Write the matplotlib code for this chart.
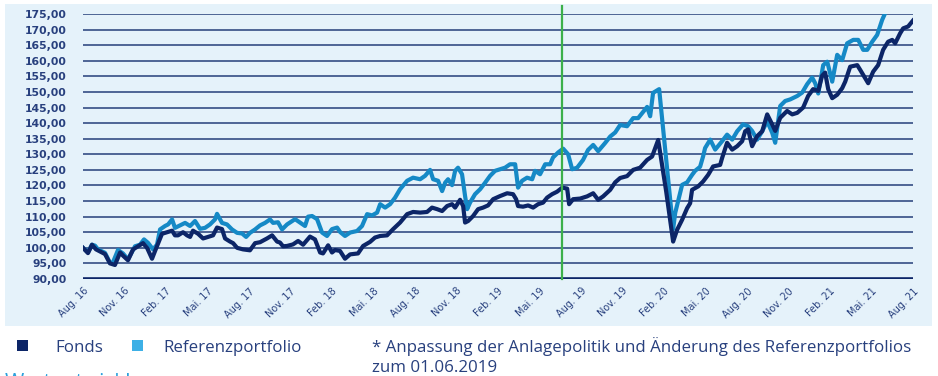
import matplotlib.pyplot as plt
from matplotlib.patches import Rectangle

# months since Aug 2016 and indexed values (start = 100)
fonds_months = [
    0.00, 0.36, 0.65, 0.94, 1.59, 1.95, 2.31, 2.68, 2.89, 3.25,
    3.62, 3.98, 4.34, 4.63, 4.99, 5.21, 5.71, 6.07, 6.44, 6.65,
    6.87, 7.23, 7.52, 7.74, 7.95, 8.32, 8.68, 9.04, 9.40, 9.69,
    10.05, 10.27, 10.63, 10.85, 11.14, 11.57, 12.07, 12.44, 12.80, 13.30,
    13.67, 14.03, 14.24, 14.46, 14.75, 15.18, 15.55, 15.91, 16.41, 16.77,
    17.14, 17.35, 17.72, 18.00, 18.22, 18.58, 18.94, 19.31, 19.88, 20.25,
    20.75, 21.11, 21.48, 21.98, 22.42, 22.92, 23.43, 23.86, 24.37, 24.87,
    25.23, 25.60, 25.96, 26.32, 26.68, 26.90, 27.26, 27.48, 27.62, 27.84,
    28.20, 28.56, 28.92, 29.28, 29.65, 30.15, 30.66, 31.09, 31.31, 31.45,
    31.81, 32.18, 32.54, 32.90, 33.26, 33.55, 33.91, 34.27, 34.64, 35.00,
    35.14, 35.43, 35.94, 36.44, 36.88, 37.24, 37.60, 38.11, 38.47, 38.83,
    39.33, 39.77, 40.27, 40.78, 41.14, 41.58, 42.16, 42.66, 42.95, 43.31,
    43.67, 43.89, 44.03, 44.47, 44.83, 45.19, 45.55, 46.06, 46.20, 46.56,
    46.93, 47.29, 47.65, 47.87, 48.08, 48.37, 48.73, 49.10, 49.46, 49.82,
    50.04, 50.40, 50.90, 51.27, 51.63, 52.06, 52.42, 52.78, 53.15, 53.43,
    53.65, 53.87, 54.16, 54.52, 54.88, 55.10, 55.46, 55.97, 56.18, 56.54,
    56.76, 57.12, 57.48, 57.84, 58.20, 58.50, 58.71, 59.07, 59.29, 59.65,
    60.00,
]
fonds = [
    100.0, 98.3, 101.0, 99.5, 98.0, 95.0, 94.5, 98.5, 97.5, 96.0,
    99.5, 100.5, 101.5, 100.0, 96.5, 99.0, 104.5, 105.0, 105.5, 104.0,
    104.0, 105.0, 104.0, 103.5, 105.5, 104.5, 103.0, 103.5, 104.0, 106.5,
    106.0, 103.0, 102.0, 101.5, 100.0, 99.5, 99.2, 101.5, 101.8, 103.0,
    104.0, 102.0, 101.7, 100.5, 100.6, 101.1, 102.2, 101.0, 103.6, 102.7,
    98.5, 98.2, 100.8, 98.5, 99.3, 99.0, 96.5, 97.9, 98.2, 100.6,
    101.9, 103.3, 103.8, 104.0, 106.0, 108.1, 110.8, 111.5, 111.3, 111.5,
    112.9, 112.4, 111.8, 113.4, 114.0, 112.9, 115.4, 113.4, 108.1, 108.6,
    110.2, 112.4, 112.9, 113.6, 115.6, 116.6, 117.5, 117.2, 115.6, 113.4,
    113.2, 113.6, 112.9, 114.0, 114.5, 116.1, 117.2, 118.0, 119.3, 119.0,
    114.0, 115.6, 115.8, 116.5, 117.5, 115.4, 116.5, 118.6, 121.0, 122.4,
    123.0, 125.0, 125.7, 128.2, 129.3, 134.6, 118.0, 102.0, 105.8, 109.0,
    112.7, 114.3, 118.6, 119.7, 121.3, 123.4, 126.1, 126.6, 128.8, 133.7,
    131.5, 132.6, 134.2, 137.4, 138.0, 132.6, 135.8, 137.4, 142.8, 139.6,
    137.5, 141.7, 143.9, 142.8, 143.3, 145.0, 148.7, 150.9, 150.3, 155.2,
    156.2, 150.9, 148.0, 149.1, 151.2, 153.3, 158.1, 158.6, 157.1, 154.4,
    152.8, 156.5, 158.6, 163.5, 166.1, 166.7, 165.6, 168.8, 170.4, 171.0,
    172.9,
]

ref_months = [
    0.00, 0.36, 0.65, 0.87, 1.08, 1.59, 1.95, 2.17, 2.53, 2.89,
    3.25, 3.76, 4.12, 4.41, 4.70, 5.06, 5.35, 5.57, 5.93, 6.15,
    6.44, 6.65, 7.01, 7.38, 7.74, 8.10, 8.46, 8.82, 9.18, 9.54,
    9.69, 10.05, 10.41, 10.77, 11.14, 11.50, 11.79, 12.07, 12.44, 12.80,
    13.16, 13.52, 13.74, 14.10, 14.39, 14.75, 15.33, 15.69, 16.05, 16.27,
    16.56, 16.92, 17.28, 17.64, 18.00, 18.37, 18.58, 18.94, 19.31, 19.81,
    20.17, 20.54, 20.90, 21.26, 21.48, 21.84, 22.20, 22.56, 22.92, 23.43,
    23.86, 24.37, 24.73, 25.09, 25.31, 25.67, 25.96, 26.18, 26.39, 26.68,
    26.90, 27.11, 27.40, 27.62, 27.77, 27.98, 28.34, 28.71, 29.07, 29.43,
    29.79, 30.15, 30.51, 30.87, 31.24, 31.45, 31.74, 32.10, 32.47, 32.68,
    33.04, 33.41, 33.77, 33.98, 34.35, 34.71, 35.07, 35.36, 35.72, 36.15,
    36.51, 36.88, 37.24, 37.74, 38.11, 38.47, 38.83, 39.33, 39.77, 40.13,
    40.49, 40.78, 41.00, 41.21, 41.65, 42.23, 42.66, 42.81, 43.31, 43.67,
    44.03, 44.25, 44.61, 44.83, 44.97, 45.34, 45.70, 46.20, 46.56, 46.93,
    47.29, 47.72, 48.08, 48.37, 48.73, 49.10, 49.46, 49.82, 50.04, 50.40,
    50.76, 51.12, 51.63, 51.99, 52.35, 52.71, 52.93, 53.15, 53.51, 53.80,
    54.16, 54.52, 54.88, 55.24, 55.68, 56.04, 56.40, 56.69, 57.05, 57.41,
    57.77, 58.06, 58.50, 58.93, 59.44, 60.00,
]
referenz = [
    100.0, 98.6, 101.0, 100.7, 99.5, 98.4, 95.2, 95.4, 99.3, 98.2,
    96.3, 100.5, 101.0, 102.7, 101.6, 99.5, 101.0, 105.9, 107.0, 107.5,
    109.1, 106.4, 107.2, 108.0, 107.0, 108.6, 106.1, 106.4, 107.5, 109.1,
    110.9, 108.0, 107.5, 105.9, 104.8, 104.6, 103.5, 104.8, 105.9, 107.2,
    108.0, 109.1, 108.0, 108.2, 105.9, 107.5, 109.2, 108.1, 107.0, 110.0,
    110.2, 109.2, 104.9, 103.8, 106.0, 106.5, 105.1, 103.8, 104.9, 105.4,
    107.0, 110.8, 110.4, 111.3, 114.0, 112.9, 114.0, 116.1, 118.8, 121.5,
    122.5, 122.0, 123.1, 125.0, 122.0, 121.5, 118.2, 120.9, 122.0, 120.1,
    124.7, 125.7, 123.6, 116.6, 112.4, 114.5, 117.2, 118.8, 120.9, 123.1,
    124.7, 125.2, 125.7, 126.8, 126.8, 119.3, 121.5, 122.5, 122.0, 124.7,
    123.6, 126.8, 126.8, 129.0, 130.6, 131.8, 130.0, 125.2, 125.7, 128.2,
    131.4, 133.0, 131.0, 133.6, 135.7, 137.0, 139.4, 139.0, 141.6, 141.6,
    143.6, 145.2, 142.2, 149.7, 150.9, 125.0, 106.0, 111.2, 120.2, 121.0,
    123.4, 124.7, 126.0, 129.4, 132.0, 134.7, 131.5, 134.2, 136.3, 134.7,
    137.4, 139.6, 139.0, 137.5, 134.7, 137.4, 140.6, 136.9, 133.7, 145.5,
    147.1, 147.6, 148.7, 149.8, 152.5, 154.6, 152.8, 149.5, 158.6, 159.7,
    153.3, 161.9, 160.2, 165.6, 166.7, 166.7, 163.5, 163.5, 166.1, 168.3,
    173.1, 176.0, 178.0, 180.0, 181.0, 183.0,
]

tick_months = list(range(0, 61, 3))
tick_labels = ["Aug. 16", "Nov. 16", "Feb. 17", "Mai. 17", "Aug. 17", "Nov. 17", "Feb. 18",
               "Mai. 18", "Aug. 18", "Nov. 18", "Feb. 19", "Mai. 19", "Aug. 19", "Nov. 19",
               "Feb. 20", "Mai. 20", "Aug. 20", "Nov. 20", "Feb. 21", "Mai. 21", "Aug. 21"]
y_ticks = list(range(90, 176, 5))
policy_change = 34.6  # 01.06.2019

navy = "#0c2567"
sky = "#1589c6"
sky_legend = "#3db0e6"
text_navy = "#28407e"
panel = "#e5f2fa"

fig = plt.figure(figsize=(9.38, 3.76), dpi=100)
fig.add_artist(Rectangle((5 / 938, 1 - 326 / 376), 927 / 938, 322 / 376,
                         transform=fig.transFigure, facecolor=panel, edgecolor="none", zorder=0))

ax = fig.add_axes([83 / 938, 1 - 279 / 376, 830 / 938, 265 / 376])
ax.patch.set_alpha(0)

for v in y_ticks[1:]:
    ax.axhline(v, color="#243f7a", lw=1.1, zorder=1)
ax.axhline(90, color=navy, lw=2.6, zorder=2)

ax.plot(ref_months, referenz, color=sky, lw=3.0, solid_joinstyle="round", zorder=3)
ax.plot(fonds_months, fonds, color=navy, lw=3.0, solid_joinstyle="round", zorder=4)

ax.set_xlim(0, 60)
ax.set_ylim(90, 175)
ax.axvline(policy_change, ymin=0, ymax=(175 + 2.6 - 90) / 85, color="#3cb04a", lw=1.6,
           zorder=5, clip_on=False)

for s in ax.spines.values():
    s.set_visible(False)

ax.set_yticks(y_ticks)
ax.set_yticklabels([f"{v},00" for v in y_ticks], fontsize=7.8, fontweight="bold",
                   color=text_navy, fontfamily="DejaVu Sans")
ax.set_xticks(tick_months)
ax.set_xticklabels(tick_labels, rotation=45, ha="right", va="top", rotation_mode="anchor",
                   fontsize=7, color=text_navy, fontfamily="DejaVu Sans")
ax.tick_params(axis="y", length=0, pad=12)
ax.tick_params(axis="x", length=0, pad=5)

# legend and footnote
font = "Open Sans"
fsize = 12.2
fig.add_artist(Rectangle((17 / 938, 1 - 351 / 376), 11 / 938, 11 / 376,
                         transform=fig.transFigure, facecolor=navy, edgecolor="none"))
fig.text(55 / 938, 1 - 352 / 376, "Fonds", fontsize=fsize, color=text_navy, fontfamily=font,
         va="baseline")
fig.add_artist(Rectangle((132 / 938, 1 - 351 / 376), 11 / 938, 11 / 376,
                         transform=fig.transFigure, facecolor=sky_legend, edgecolor="none"))
fig.text(163 / 938, 1 - 352 / 376, "Referenzportfolio", fontsize=fsize, color=text_navy,
         fontfamily=font, va="baseline")
fig.text(372 / 938, 1 - 352 / 376,
         "* Anpassung der Anlagepolitik und Änderung des Referenzportfolios",
         fontsize=fsize, color=text_navy, fontfamily=font, va="baseline")
fig.text(372 / 938, 1 - 372 / 376, "zum 01.06.2019",
         fontsize=fsize, color=text_navy, fontfamily=font, va="baseline")
fig.text(5 / 938, 1 - 389 / 376, "Wertentwicklung", fontsize=15, color="#2aa0dc",
         fontfamily=font, va="baseline")

fig.savefig("out.png", dpi=100)
plt.close(fig)
